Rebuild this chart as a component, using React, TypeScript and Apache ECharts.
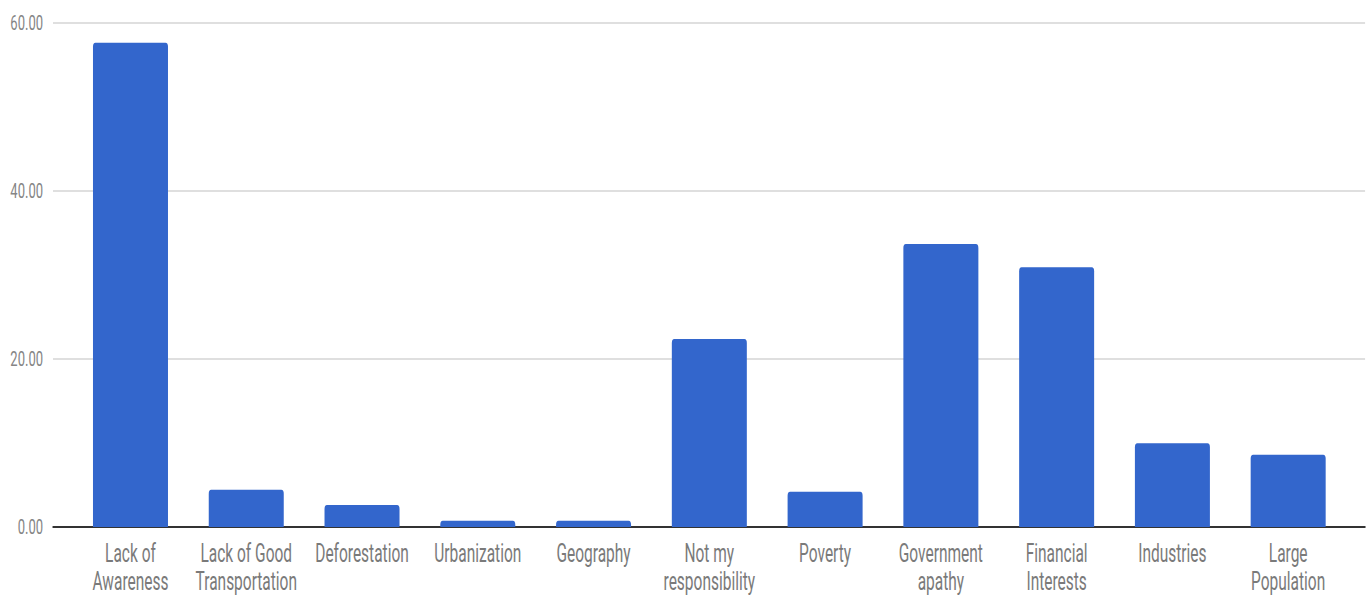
import React, { useEffect, useRef } from "react";
import * as echarts from "echarts";

// Survey categories (line breaks are part of the axis labels)
const categories = [
  "Lack of\nAwareness",
  "Lack of Good\nTransportation",
  "Deforestation",
  "Urbanization",
  "Geography",
  "Not my\nresponsibility",
  "Poverty",
  "Government\napathy",
  "Financial\nInterests",
  "Industries",
  "Large\nPopulation",
];

// Share of responses per category
const values = [57.6, 4.44, 2.62, 0.75, 0.75, 22.37, 4.2, 33.67, 30.9, 9.96, 8.6];

// Value axis range and step
const yMin = 0;
const yMax = 60;
const yStep = 20;

// The chart is laid out wide and squeezed horizontally, giving condensed type
const SQUEEZE = 0.62;
const VIEW_W = 1372;
const VIEW_H = 599;
const CHART_W = VIEW_W / SQUEEZE;

export default function App() {
  const ref = useRef<HTMLDivElement>(null);

  useEffect(() => {
    if (!ref.current) return;
    const chart = echarts.init(ref.current, null, { renderer: "svg" });

    const toChart = (x: number) => x / SQUEEZE;
    const axisLeft = toChart(53);
    const axisRight = CHART_W - toChart(1365);
    const barsLeft = toChart(72.6);
    const barsRight = CHART_W - toChart(1346);
    const top = 22.7;
    const bottom = VIEW_H - 527;

    chart.setOption({
      animation: false,
      textStyle: { fontFamily: "Roboto, sans-serif" },
      grid: [
        { left: axisLeft, right: axisRight, top, bottom, containLabel: false },
        { left: barsLeft, right: barsRight, top, bottom, containLabel: false },
      ],
      xAxis: [
        {
          type: "value",
          gridIndex: 0,
          min: 0,
          max: 1,
          axisLine: { show: true, onZero: false, lineStyle: { color: "#333333", width: 2 } },
          axisTick: { show: false },
          axisLabel: { show: false },
          splitLine: { show: false },
        },
        {
          type: "category",
          gridIndex: 1,
          data: categories,
          axisLine: { show: false },
          axisTick: { show: false },
          axisLabel: {
            interval: 0,
            margin: 13,
            color: "#7a7a7a",
            fontSize: 25,
            lineHeight: 28,
            fontFamily: "Roboto, sans-serif",
          },
        },
      ],
      yAxis: [
        {
          type: "value",
          gridIndex: 0,
          min: yMin,
          max: yMax,
          interval: yStep,
          axisLine: { show: false },
          axisTick: { show: false },
          axisLabel: {
            margin: 16,
            color: "#858585",
            fontSize: 21,
            fontFamily: "Roboto, sans-serif",
            formatter: (v: number) => v.toFixed(2),
          },
          splitLine: { show: true, lineStyle: { color: "#d4d4d4", width: 1.5 } },
        },
        {
          type: "value",
          gridIndex: 1,
          min: yMin,
          max: yMax,
          interval: yStep,
          show: false,
          splitLine: { show: false },
        },
      ],
      series: [
        {
          type: "bar",
          xAxisIndex: 1,
          yAxisIndex: 1,
          data: values,
          barWidth: toChart(75),
          itemStyle: { color: "#3366cc", borderRadius: [4, 4, 0, 0] },
          z: 1,
        },
      ],
    });

    return () => chart.dispose();
  }, []);

  return (
    <div
      ref={ref}
      style={{
        position: "absolute",
        left: 0,
        top: 0,
        width: CHART_W,
        height: VIEW_H,
        transform: `scaleX(${SQUEEZE})`,
        transformOrigin: "0 0",
        background: "#ffffff",
      }}
    />
  );
}
